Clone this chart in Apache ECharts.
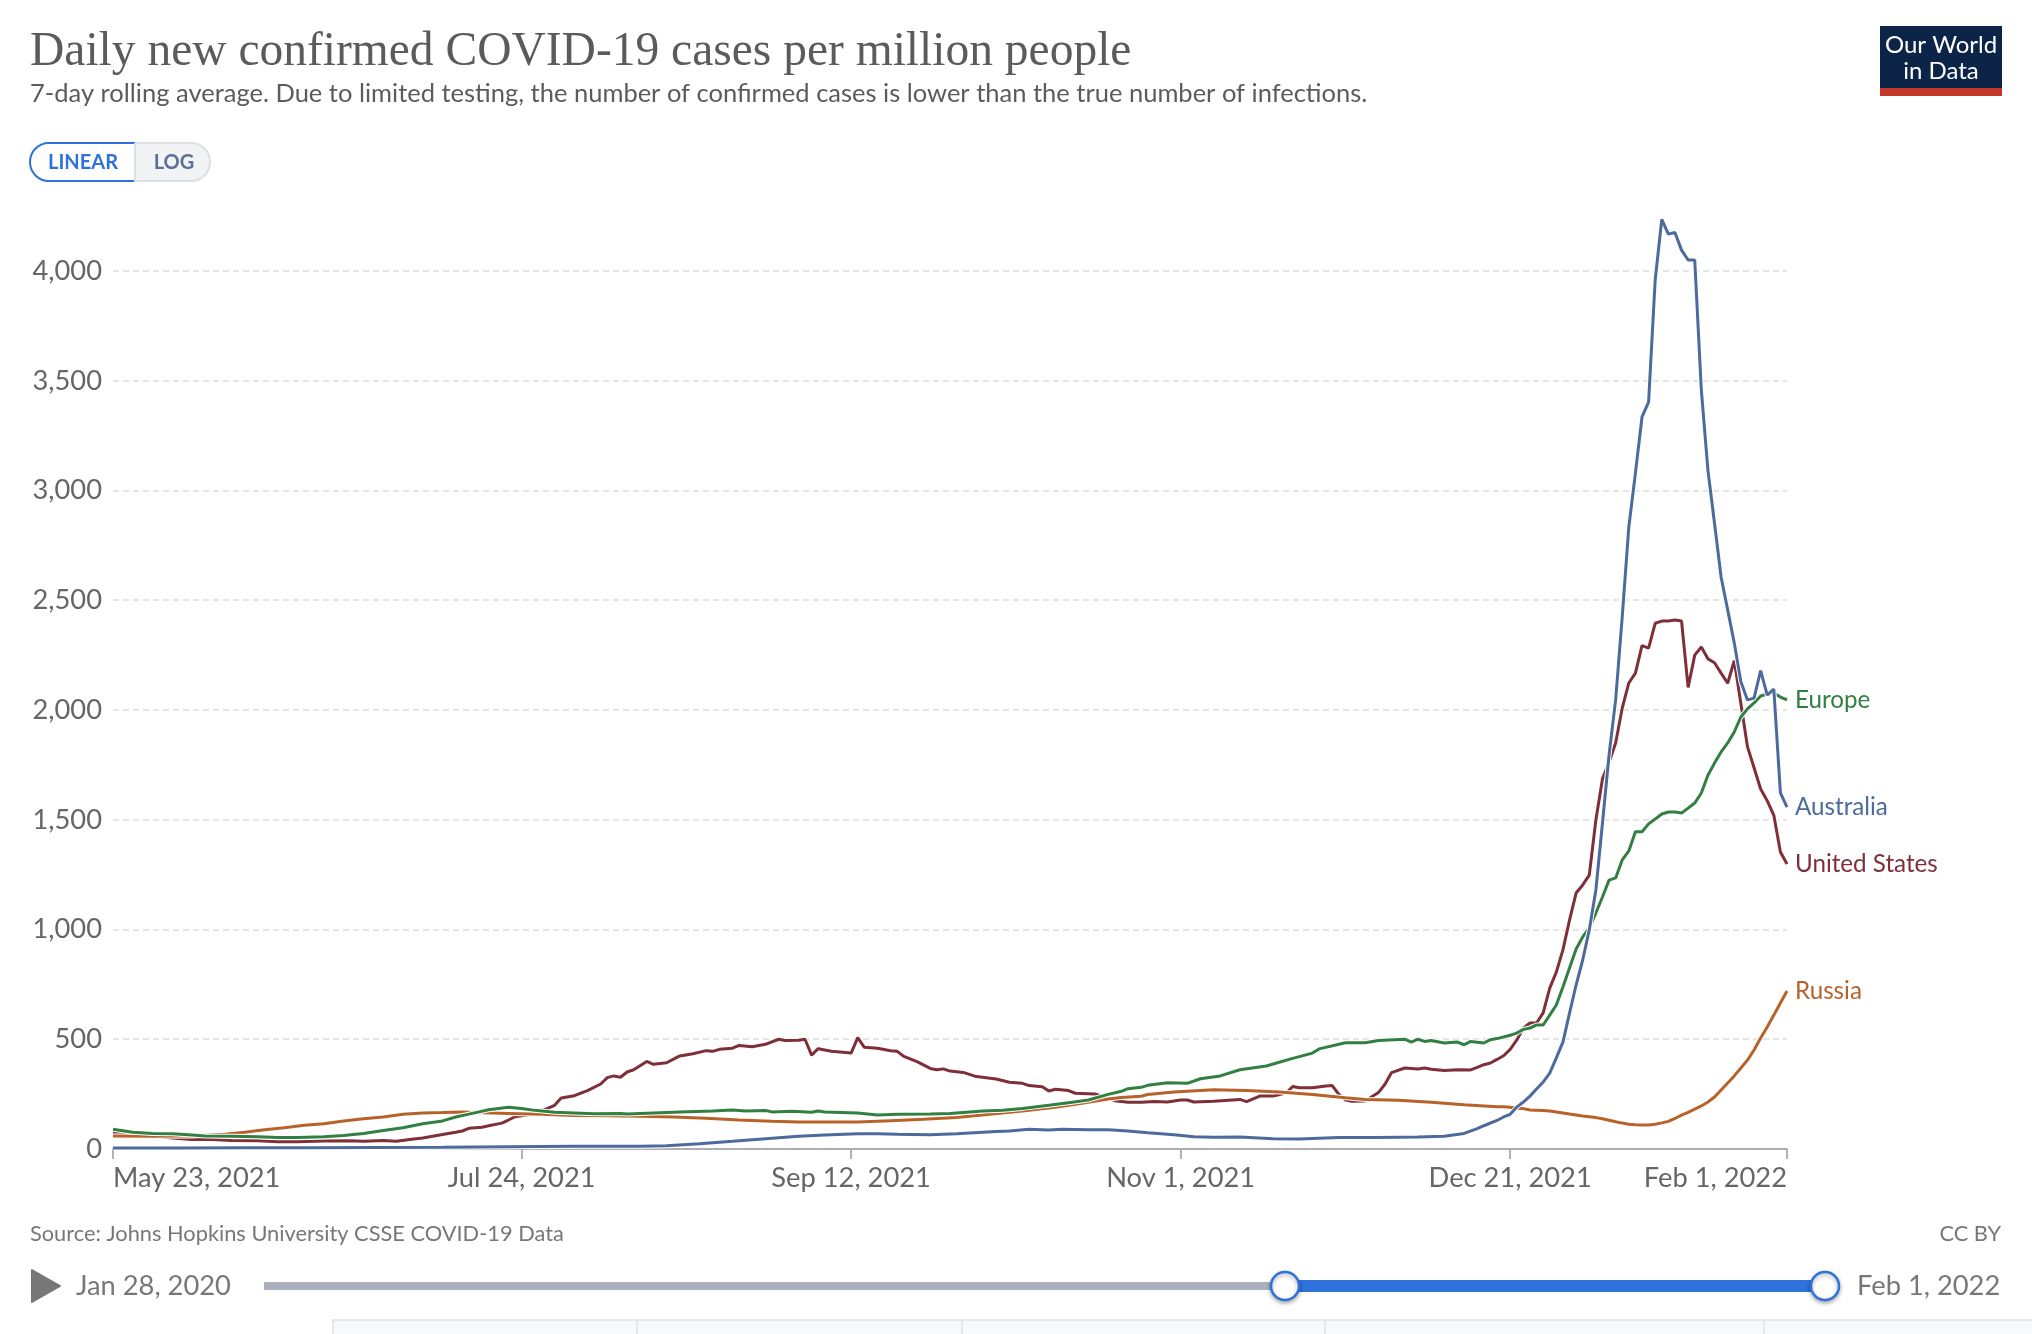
<!DOCTYPE html>
<html>
<head>
<meta charset="utf-8">
<title>Daily new confirmed COVID-19 cases per million people</title>
<script src="https://cdn.jsdelivr.net/npm/echarts@6/dist/echarts.min.js"></script>
<style>
  html, body { margin: 0; padding: 0; background: #fff; }
  #chart { width: 2032px; height: 1334px; }
</style>
</head>
<body>
<div id="chart"></div>
<script>
// days counted from May 23, 2021
const tailDays = [210,211,212,213,214,215,216,217,218,219,220,221,222,223,224,225,226,227,228,229,230,231,232,233,234,235,236,237,238,239,240,241,242,243,244,245,246,247,248,249,250,251,252,253,254];

const australiaDays = [0,10,20,30,40,50,55,60,65,70,75,80,84,89,94,99,104,108,113,116,119,124,128,134,136,139,142,144,148,151,154,157,161,164,167,171,176,180,186,192,198,202,205,207,208];
const australiaValues = [5,5,6,6,7,8,9,10,11,12,13,13,15,24,35,47,58,64,70,70,67,65,70,80,82,90,87,90,88,88,82,74,65,56,53,55,47,46,52,52,55,58,71,93,106];
const australiaTail = [130,146,158,191,214,241,273,305,346,415,487,619,747,861,998,1180,1485,1795,2046,2425,2834,3079,3335,3403,3959,4235,4168,4175,4095,4050,4050,3458,3093,2851,2606,2456,2305,2129,2046,2054,2179,2068,2095,1622,1557];

const europeDays = [0,3,6,9,12,14,18,22,25,28,32,35,38,41,44,47,50,52,54,57,60,62,64,67,70,73,77,78,82,86,91,94,96,99,100,103,106,107,108,113,116,119,124,127,132,135,138,142,145,148,151,153,154,156,157,160,163,165,168,171,175,179,182,183,187,190,192,196,197,198,199,200,202,204,205,206,208,209];
const europeValues = [90,76,71,70,64,59,58,56,52,52,56,62,71,84,97,115,128,146,159,179,190,185,176,167,164,161,162,159,164,169,173,178,173,175,169,172,167,173,169,164,155,158,159,162,173,176,185,199,211,223,249,263,275,281,290,302,299,320,333,361,378,413,437,456,484,484,494,500,487,500,490,494,483,487,475,490,483,498];
const europeTail = [503,510,518,528,545,551,565,565,610,656,738,825,911,966,1007,1075,1148,1225,1235,1317,1358,1445,1445,1481,1503,1526,1535,1535,1531,1553,1576,1622,1703,1758,1809,1850,1900,1968,2005,2032,2064,2073,2077,2059,2046];

const usDays = [0,3,6,9,12,15,18,22,25,28,32,36,38,41,43,45,47,50,52,53,54,56,57,59,60,61,63,65,67,68,70,72,74,75,76,77,78,79,81,82,84,86,88,90,91,92,94,95,97,99,101,102,104,105,106,107,109,112,113,114,116,118,119,120,122,124,125,126,127,129,131,134,136,138,139,141,142,143,145,146,149,151,152,154,156,158,160,162,163,164,167,171,172,174,176,178,179,180,182,184,185,186,187,188,190,192,193,194,196,198,199,200,202,204,206,207,208,209];
const usValues = [74,68,61,50,43,43,39,38,33,33,36,38,35,39,35,43,50,66,76,82,94,99,106,118,132,147,156,173,199,232,243,266,296,325,333,327,351,361,399,386,393,424,434,448,445,454,459,472,466,477,500,494,495,500,428,457,445,437,507,463,459,448,445,422,398,367,361,365,355,349,330,319,304,299,289,284,264,272,266,254,251,231,220,213,213,216,214,223,223,214,217,226,216,241,241,255,285,279,279,287,289,249,223,217,219,257,295,348,369,364,369,363,358,361,360,372,384,392];
const usTail = [408,425,454,497,550,574,574,620,733,806,907,1043,1166,1203,1248,1499,1686,1763,1850,2009,2123,2168,2293,2282,2395,2405,2405,2410,2405,2103,2250,2287,2233,2215,2168,2122,2225,2030,1833,1737,1640,1587,1520,1353,1298];

const russiaDays = [0,6,12,17,20,23,26,29,32,35,38,41,44,47,50,53,55,60,65,70,75,80,85,90,95,100,104,108,113,118,123,128,133,138,143,148,151,153,156,157,161,165,167,172,177,182,187,190,195,200,205];
const russiaValues = [59,58,59,67,76,88,97,108,115,128,138,146,158,164,166,169,166,162,158,153,152,149,146,140,132,126,123,123,123,129,135,144,158,173,190,213,228,235,240,248,260,267,270,266,260,248,234,226,222,213,202];
const russiaTail = [193,192,190,186,184,178,177,175,173,169,164,159,155,150,147,143,138,131,124,118,113,110,109,109,113,119,126,139,154,167,182,196,214,237,269,301,333,369,405,451,506,556,610,665,720];

const yTicks = [0,500,1000,1500,2000,2500,3000,3500,4000];
const xTickDays = [0,62,112,162,212,254];
const xTickLabels = ["May 23, 2021","Jul 24, 2021","Sep 12, 2021","Nov 1, 2021","Dec 21, 2021","Feb 1, 2022"];

function toPoints(days, values, tail) {
  const allValues = values.concat(tail);
  return days.concat(tailDays).map((day, i) => [day, allValues[i]]);
}

const sans = "Lato";
const greyText = "#666";

// bottom to top, the later lines sit over the earlier ones
const lines = [
  { name: "United States", color: "#7f2f38", data: toPoints(usDays, usValues, usTail) },
  { name: "Russia", color: "#b8622a", data: toPoints(russiaDays, russiaValues, russiaTail) },
  { name: "Europe", color: "#327f42", data: toPoints(europeDays, europeValues, europeTail) },
  { name: "Australia", color: "#4c6a9c", data: toPoints(australiaDays, australiaValues, australiaTail) },
];

// each line gets a thin white edge underneath, as in the original
const series = lines.flatMap((line) => [
  {
    type: "line", data: line.data, showSymbol: false, silent: true, clip: false,
    lineStyle: { color: "#fff", width: 5 }, z: 3,
  },
  {
    type: "line", name: line.name, data: line.data, showSymbol: false, clip: false,
    lineStyle: { color: line.color, width: 3 }, z: 3,
    endLabel: {
      show: true, formatter: "{a}", color: line.color, distance: 8,
      fontFamily: sans, fontSize: 24.2,
    },
  },
]);

function label(text, x, y, size, color, align, weight) {
  return {
    type: "text", x: x, y: y, silent: true,
    style: {
      text: text, fill: color, fontFamily: sans, fontSize: size,
      fontWeight: weight || "normal", align: align || "left", verticalAlign: "middle",
    },
  };
}
function box(x, y, width, height, fill, extra) {
  return {
    type: "rect", silent: true,
    shape: Object.assign({ x: x, y: y, width: width, height: height }, extra && extra.shape),
    style: Object.assign({ fill: fill }, extra && extra.style),
  };
}
function handle(x) {
  return {
    type: "circle", silent: true, shape: { cx: x, cy: 1286, r: 14 },
    style: {
      fill: "#fff", stroke: "#2f72db", lineWidth: 2.5,
      shadowBlur: 4, shadowColor: "rgba(0,0,0,0.3)", shadowOffsetY: 2,
    },
  };
}

const controls = [
  // linear / log switch
  box(30, 143, 105, 38, "#fff", { shape: { r: [19, 0, 0, 19] }, style: { stroke: "#2f72db", lineWidth: 2 } }),
  box(135, 143, 75, 38, "#f2f3f5", { shape: { r: [0, 19, 19, 0] }, style: { stroke: "#dcdfe3", lineWidth: 2 } }),
  label("LINEAR", 83, 163, 20, "#2f72db", "center", "bold"),
  label("LOG", 174, 163, 20, "#5b7198", "center", "bold"),
  // logo
  box(1880, 26, 122, 62, "#0b2447"),
  box(1880, 88, 122, 8, "#c0392b"),
  label("Our World", 1941, 45, 24, "#fff", "center"),
  label("in Data", 1941, 71, 24, "#fff", "center"),
  // footer
  label("Source: Johns Hopkins University CSSE COVID-19 Data", 30, 1234, 21.8, "#777"),
  label("CC BY", 2001, 1234, 21.8, "#777", "right"),
  // timeline
  {
    type: "polygon", silent: true,
    shape: { points: [[32, 1270], [60, 1286], [32, 1302]] },
    style: { fill: "#777", stroke: "#777", lineWidth: 2, lineJoin: "round" },
  },
  label("Jan 28, 2020", 76, 1286, 27.3, "#777"),
  box(264, 1282, 1021, 8, "#aab1bd"),
  box(1285, 1280, 540, 12, "#2f72db"),
  handle(1285),
  handle(1825),
  label("Feb 1, 2022", 1857, 1286, 27.3, "#777"),
  // tab strip at the bottom edge
  box(333, 1320, 1720, 30, "#f8f9fb", { style: { stroke: "#e5e7ea", lineWidth: 2 } }),
  box(636, 1320, 2, 14, "#e5e7ea"),
  box(961, 1320, 2, 14, "#e5e7ea"),
  box(1324, 1320, 2, 14, "#e5e7ea"),
  box(1763, 1320, 2, 14, "#e5e7ea"),
];

const myChart = echarts.init(document.getElementById("chart"));
myChart.setOption({
  animation: false,
  backgroundColor: "#fff",
  title: {
    text: "Daily new confirmed COVID-19 cases per million people",
    subtext: "7-day rolling average. Due to limited testing, the number of confirmed cases is lower than the true number of infections.",
    left: 30, top: 29, padding: 0, itemGap: 4,
    textStyle: { fontFamily: "Liberation Serif", fontSize: 47.5, fontWeight: "normal", color: "#5b5b5b" },
    subtextStyle: { fontFamily: sans, fontSize: 25.5, color: "#5b5b5b" },
  },
  grid: { left: 113, top: 218.3, width: 1674, height: 930.7 },
  xAxis: {
    type: "value",
    min: 0,
    max: 254,
    axisLine: { lineStyle: { color: "#999", width: 1.5 } },
    axisTick: { length: 10, lineStyle: { color: "#999", width: 1.5 }, customValues: xTickDays },
    splitLine: { show: false },
    axisLabel: {
      customValues: xTickDays,
      formatter: (value) => xTickLabels[xTickDays.indexOf(value)],
      alignMinLabel: "left", alignMaxLabel: "right",
      showMinLabel: true, showMaxLabel: true, hideOverlap: false,
      margin: 16, fontFamily: sans, fontSize: 27.3, color: greyText,
    },
  },
  yAxis: {
    type: "value",
    min: 0,
    max: 4240,
    axisLine: { show: false },
    axisTick: { show: false, customValues: yTicks },
    splitLine: { lineStyle: { color: "#ddd", type: [6, 4], width: 1.5 } },
    axisLabel: {
      customValues: yTicks, margin: 11,
      formatter: (value) => value.toLocaleString("en-US"),
      fontFamily: sans, fontSize: 27.3, color: greyText,
    },
  },
  series: series,
  graphic: controls,
});
</script>
</body>
</html>
